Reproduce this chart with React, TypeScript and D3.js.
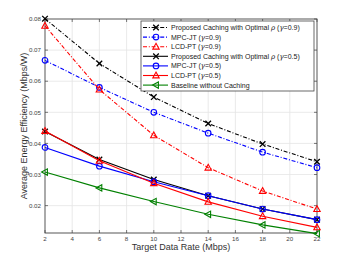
import React, { useEffect, useRef } from "react";
import * as d3 from "d3";

const rates = [2, 6, 10, 14, 18, 22];
const propOpt09 = [0.0801, 0.0657, 0.0549, 0.0464, 0.0398, 0.0341];
const mpcJt09 = [0.0667, 0.058, 0.05, 0.0433, 0.0372, 0.0322];
const lcdPt09 = [0.0778, 0.0573, 0.0426, 0.0322, 0.0247, 0.0189];
const propOpt05 = [0.0438, 0.0348, 0.0284, 0.0232, 0.0189, 0.0155];
const mpcJt05 = [0.0387, 0.0327, 0.0277, 0.0232, 0.0189, 0.0155];
const lcdPt05 = [0.044, 0.0344, 0.0272, 0.0212, 0.0166, 0.013];
const baseline = [0.0308, 0.0257, 0.0213, 0.0172, 0.0138, 0.011];

const xTicks = [2, 4, 6, 8, 10, 12, 14, 16, 18, 20, 22];
const yTicks = [0.02, 0.03, 0.04, 0.05, 0.06, 0.07, 0.08];

type Series = {
  name: string;
  rho: boolean;
  gamma: string;
  values: number[];
  color: string;
  dashed: boolean;
  marker: "x" | "o" | "tri" | "left";
};

const series: Series[] = [
  { name: "Proposed Caching with Optimal ", rho: true, gamma: "0.9", values: propOpt09, color: "#000", dashed: true, marker: "x" },
  { name: "MPC-JT ", rho: false, gamma: "0.9", values: mpcJt09, color: "#0000ff", dashed: true, marker: "o" },
  { name: "LCD-PT ", rho: false, gamma: "0.9", values: lcdPt09, color: "#ff0000", dashed: true, marker: "tri" },
  { name: "Proposed Caching with Optimal ", rho: true, gamma: "0.5", values: propOpt05, color: "#000", dashed: false, marker: "x" },
  { name: "MPC-JT ", rho: false, gamma: "0.5", values: mpcJt05, color: "#0000ff", dashed: false, marker: "o" },
  { name: "LCD-PT ", rho: false, gamma: "0.5", values: lcdPt05, color: "#ff0000", dashed: false, marker: "tri" },
  { name: "Baseline without Caching", rho: false, gamma: "", values: baseline, color: "#008000", dashed: false, marker: "left" },
];

const drawMarker = (g: d3.Selection<SVGGElement, unknown, null, undefined>, kind: string, cx: number, cy: number, color: string) => {
  const s = 2.8;
  if (kind === "x") {
    g.append("path")
      .attr("d", `M${cx - s},${cy - s}L${cx + s},${cy + s}M${cx - s},${cy + s}L${cx + s},${cy - s}`)
      .attr("stroke", color).attr("stroke-width", 1.3).attr("fill", "none");
  } else if (kind === "o") {
    g.append("circle").attr("cx", cx).attr("cy", cy).attr("r", 2.8)
      .attr("stroke", color).attr("stroke-width", 1.1).attr("fill", "none");
  } else if (kind === "tri") {
    g.append("path")
      .attr("d", `M${cx},${cy - 3.4}L${cx + 3.2},${cy + 2.4}L${cx - 3.2},${cy + 2.4}Z`)
      .attr("stroke", color).attr("stroke-width", 1.1).attr("fill", "none");
  } else {
    g.append("path")
      .attr("d", `M${cx - 3.4},${cy}L${cx + 2.4},${cy - 3.2}L${cx + 2.4},${cy + 3.2}Z`)
      .attr("stroke", color).attr("stroke-width", 1.1).attr("fill", "none");
  }
};

const App: React.FC = () => {
  const ref = useRef<SVGSVGElement | null>(null);

  useEffect(() => {
    if (!ref.current) return;
    const svg = d3.select(ref.current);
    svg.selectAll("*").remove();

    const margin = { top: 19, right: 33, bottom: 30, left: 45 };
    const width = 350;
    const height = 263;
    const innerWidth = width - margin.left - margin.right;
    const innerHeight = height - margin.top - margin.bottom;

    const x = d3.scaleLinear().domain([2, 22]).range([0, innerWidth]);
    const y = d3.scaleLinear().domain([0.0112, 0.08]).range([innerHeight, 0]);

    svg.append("rect").attr("width", width).attr("height", height).attr("fill", "#fff");

    const g = svg.append("g").attr("transform", `translate(${margin.left},${margin.top})`);

    // grid
    g.append("g").selectAll("line").data(xTicks.slice(1, -1)).enter().append("line")
      .attr("x1", d => x(d)).attr("x2", d => x(d)).attr("y1", 0).attr("y2", innerHeight)
      .attr("stroke", "#e4e4e4").attr("stroke-width", 0.8);
    g.append("g").selectAll("line").data(yTicks.slice(0, -1)).enter().append("line")
      .attr("x1", 0).attr("x2", innerWidth).attr("y1", d => y(d)).attr("y2", d => y(d))
      .attr("stroke", "#e4e4e4").attr("stroke-width", 0.8);

    // box
    g.append("rect").attr("width", innerWidth).attr("height", innerHeight)
      .attr("fill", "none").attr("stroke", "#444").attr("stroke-width", 0.9);

    // ticks (inward, both sides)
    xTicks.forEach(t => {
      g.append("line").attr("x1", x(t)).attr("x2", x(t)).attr("y1", innerHeight).attr("y2", innerHeight - 3)
        .attr("stroke", "#444").attr("stroke-width", 0.7);
      g.append("line").attr("x1", x(t)).attr("x2", x(t)).attr("y1", 0).attr("y2", 3)
        .attr("stroke", "#444").attr("stroke-width", 0.7);
      g.append("text").attr("x", x(t)).attr("y", innerHeight + 8)
        .attr("text-anchor", "middle").attr("font-size", 6.2).attr("fill", "#444")
        .attr("font-family", "Liberation Sans, Arial, sans-serif").text(t);
    });
    yTicks.forEach(t => {
      g.append("line").attr("x1", 0).attr("x2", 3).attr("y1", y(t)).attr("y2", y(t))
        .attr("stroke", "#444").attr("stroke-width", 0.7);
      g.append("line").attr("x1", innerWidth).attr("x2", innerWidth - 3).attr("y1", y(t)).attr("y2", y(t))
        .attr("stroke", "#444").attr("stroke-width", 0.7);
      g.append("text").attr("x", -4).attr("y", y(t) + 2.2)
        .attr("text-anchor", "end").attr("font-size", 6.2).attr("fill", "#444")
        .attr("font-family", "Liberation Sans, Arial, sans-serif").text(t.toFixed(2));
    });

    // series
    const line = d3.line<number>().x((_, i) => x(rates[i])).y(d => y(d));
    series.forEach(s => {
      g.append("path").datum(s.values).attr("d", line)
        .attr("fill", "none").attr("stroke", s.color).attr("stroke-width", 1.1)
        .attr("stroke-dasharray", s.dashed ? "4,1.8,1,1.8" : null);
      s.values.forEach((v, i) => drawMarker(g as any, s.marker, x(rates[i]), y(v), s.color));
    });

    // legend
    const lg = svg.append("g").attr("transform", "translate(141,21)");
    lg.append("rect").attr("width", 173).attr("height", 70)
      .attr("fill", "#fff").attr("stroke", "#444").attr("stroke-width", 0.8);
    series.forEach((s, i) => {
      const cy = 6.5 + i * 9.6;
      lg.append("line").attr("x1", 2).attr("x2", 27).attr("y1", cy).attr("y2", cy)
        .attr("stroke", s.color).attr("stroke-width", 1.1)
        .attr("stroke-dasharray", s.dashed ? "4,1.8,1,1.8" : null);
      drawMarker(lg as any, s.marker, 15, cy, s.color);
      const t = lg.append("text").attr("x", 30).attr("y", cy + 2.5)
        .attr("font-size", 7).attr("fill", "#222")
        .attr("font-family", "Liberation Sans, Arial, sans-serif");
      t.append("tspan").text(s.name);
      if (s.rho) {
        t.append("tspan").attr("font-style", "italic").attr("font-family", "DejaVu Serif, serif").text("ρ");
        t.append("tspan").text(" ");
      }
      if (s.gamma) {
        t.append("tspan").text("(");
        t.append("tspan").attr("font-style", "italic").attr("font-family", "DejaVu Serif, serif").text("γ");
        t.append("tspan").text(`=${s.gamma})`);
      }
    });

    // axis labels
    svg.append("text").attr("x", margin.left + innerWidth / 2).attr("y", 250)
      .attr("text-anchor", "middle").attr("font-size", 9).attr("fill", "#333")
      .attr("font-family", "Liberation Sans, Arial, sans-serif").text("Target Data Rate (Mbps)");
    svg.append("text").attr("transform", `translate(27,${margin.top + innerHeight / 2}) rotate(-90)`)
      .attr("text-anchor", "middle").attr("font-size", 9).attr("fill", "#333")
      .attr("font-family", "Liberation Sans, Arial, sans-serif").text("Average Energy Efficiency (Mbps/W)");
  }, []);

  return (
    <svg ref={ref} width={350} height={263}
      style={{ position: "absolute", left: 0, top: 0, display: "block" }} />
  );
};

export default App;
